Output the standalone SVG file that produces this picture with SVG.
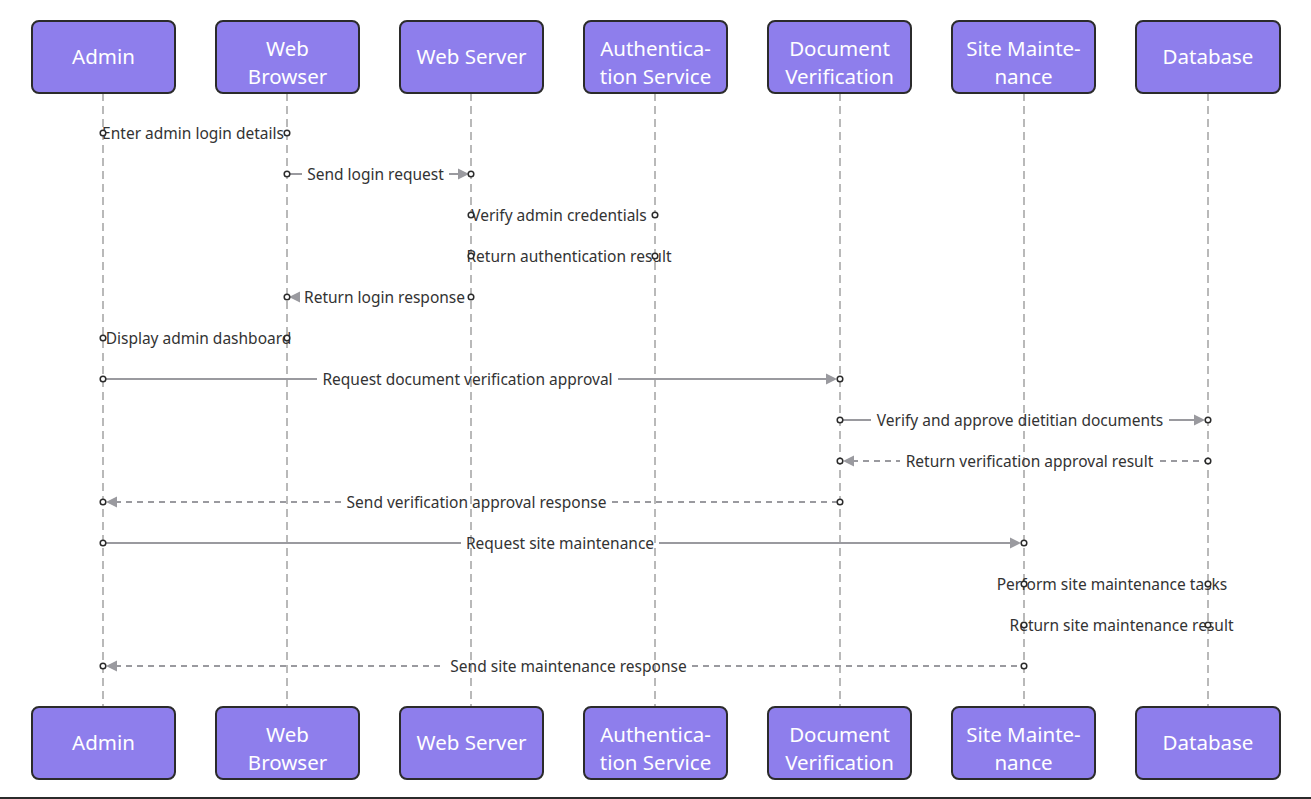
<svg xmlns="http://www.w3.org/2000/svg" xmlns:xlink="http://www.w3.org/1999/xlink" width="1311" height="799" viewBox="0 0 1311 799">
<style>
.box{fill:#8e7eec;stroke:#2b2b2b;stroke-width:2}
.bt{font-family:"Noto Sans","Open Sans",sans-serif;font-size:20.5px;fill:#ffffff;text-anchor:middle}
.life{stroke:#a8a8a8;stroke-width:1.6;stroke-dasharray:8 5;fill:none}
.msg{stroke:#9a9a9f;stroke-width:2;fill:none}
.dash{stroke-dasharray:6 5}
.mt{font-family:"Noto Sans","Open Sans",sans-serif;font-size:15.5px;fill:#333333;text-anchor:middle}
.dot{fill:#ffffff;stroke:#2b2b2b;stroke-width:1.5}
.ah{fill:#9a9a9f}
</style>
<defs>
<path id="ar" d="M0,0 L-11,-5.5 L-11,5.5 Z"/>
<path id="al" d="M0,0 L11,-5.5 L11,5.5 Z"/>
</defs>
<rect width="1311" height="799" fill="#ffffff"/>
<g id="lifelines">
<line class="life" x1="103" y1="93" x2="103" y2="707"/>
<line class="life" x1="287" y1="93" x2="287" y2="707"/>
<line class="life" x1="471" y1="93" x2="471" y2="707"/>
<line class="life" x1="655" y1="93" x2="655" y2="707"/>
<line class="life" x1="840" y1="93" x2="840" y2="707"/>
<line class="life" x1="1024" y1="93" x2="1024" y2="707"/>
<line class="life" x1="1208" y1="93" x2="1208" y2="707"/>
</g>
<g id="node-admin">
<rect class="box" x="32" y="21" width="143" height="72" rx="7"/>
<text class="bt" x="103.5" y="64">Admin</text>
</g>
<g id="node-browser">
<rect class="box" x="216" y="21" width="143" height="72" rx="7"/>
<text class="bt" x="287.5" y="56">Web</text>
<text class="bt" x="287.5" y="84">Browser</text>
</g>
<g id="node-server">
<rect class="box" x="400" y="21" width="143" height="72" rx="7"/>
<text class="bt" x="471.5" y="64">Web Server</text>
</g>
<g id="node-auth">
<rect class="box" x="584" y="21" width="143" height="72" rx="7"/>
<text class="bt" x="655.5" y="56">Authentica-</text>
<text class="bt" x="655.5" y="84">tion Service</text>
</g>
<g id="node-docver">
<rect class="box" x="768" y="21" width="143" height="72" rx="7"/>
<text class="bt" x="839.5" y="56">Document</text>
<text class="bt" x="839.5" y="84">Verification</text>
</g>
<g id="node-site">
<rect class="box" x="952" y="21" width="143" height="72" rx="7"/>
<text class="bt" x="1023.5" y="56">Site Mainte-</text>
<text class="bt" x="1023.5" y="84">nance</text>
</g>
<g id="node-db">
<rect class="box" x="1136" y="21" width="144" height="72" rx="7"/>
<text class="bt" x="1208" y="64">Database</text>
</g>
<g id="node-admin-bottom">
<rect class="box" x="32" y="707" width="143" height="72" rx="7"/>
<text class="bt" x="103.5" y="750">Admin</text>
</g>
<g id="node-browser-bottom">
<rect class="box" x="216" y="707" width="143" height="72" rx="7"/>
<text class="bt" x="287.5" y="742">Web</text>
<text class="bt" x="287.5" y="770">Browser</text>
</g>
<g id="node-server-bottom">
<rect class="box" x="400" y="707" width="143" height="72" rx="7"/>
<text class="bt" x="471.5" y="750">Web Server</text>
</g>
<g id="node-auth-bottom">
<rect class="box" x="584" y="707" width="143" height="72" rx="7"/>
<text class="bt" x="655.5" y="742">Authentica-</text>
<text class="bt" x="655.5" y="770">tion Service</text>
</g>
<g id="node-docver-bottom">
<rect class="box" x="768" y="707" width="143" height="72" rx="7"/>
<text class="bt" x="839.5" y="742">Document</text>
<text class="bt" x="839.5" y="770">Verification</text>
</g>
<g id="node-site-bottom">
<rect class="box" x="952" y="707" width="143" height="72" rx="7"/>
<text class="bt" x="1023.5" y="742">Site Mainte-</text>
<text class="bt" x="1023.5" y="770">nance</text>
</g>
<g id="node-db-bottom">
<rect class="box" x="1136" y="707" width="144" height="72" rx="7"/>
<text class="bt" x="1208" y="750">Database</text>
</g>
<g id="connectors">
<!-- 1 -->
<text class="mt" x="193" y="139">Enter admin login details</text>
<!-- 2 -->
<line class="msg" x1="287" y1="174" x2="302" y2="174"/>
<line class="msg" x1="449" y1="174" x2="460" y2="174"/>
<use href="#ar" class="ah" x="469" y="174"/>
<text class="mt" x="375.5" y="180">Send login request</text>
<!-- 3 -->
<text class="mt" x="559" y="221">Verify admin credentials</text>
<!-- 4 -->
<text class="mt" x="569" y="262">Return authentication result</text>
<!-- 5 -->
<use href="#al" class="ah" x="289" y="297"/>
<text class="mt" x="384.5" y="303">Return login response</text>
<!-- 6 -->
<text class="mt" x="198.5" y="344">Display admin dashboard</text>
<!-- 7 -->
<line class="msg" x1="103" y1="379" x2="317" y2="379"/>
<line class="msg" x1="618" y1="379" x2="828" y2="379"/>
<use href="#ar" class="ah" x="837" y="379"/>
<text class="mt" x="467.5" y="385">Request document verification approval</text>
<!-- 8 -->
<line class="msg" x1="840" y1="420" x2="871" y2="420"/>
<line class="msg" x1="1169" y1="420" x2="1196" y2="420"/>
<use href="#ar" class="ah" x="1205" y="420"/>
<text class="mt" x="1020" y="426">Verify and approve dietitian documents</text>
<!-- 9 -->
<use href="#al" class="ah" x="843" y="461"/>
<line class="msg dash" x1="852" y1="461" x2="900" y2="461"/>
<line class="msg dash" x1="1160" y1="461" x2="1208" y2="461"/>
<text class="mt" x="1029.5" y="467">Return verification approval result</text>
<!-- 10 -->
<use href="#al" class="ah" x="106" y="502"/>
<line class="msg dash" x1="115" y1="502" x2="341" y2="502"/>
<line class="msg dash" x1="612" y1="502" x2="840" y2="502"/>
<text class="mt" x="476.5" y="508">Send verification approval response</text>
<!-- 11 -->
<line class="msg" x1="103" y1="543" x2="461" y2="543"/>
<line class="msg" x1="659" y1="543" x2="1012" y2="543"/>
<use href="#ar" class="ah" x="1021" y="543"/>
<text class="mt" x="560" y="549">Request site maintenance</text>
<!-- 12 -->
<text class="mt" x="1112" y="590">Perform site maintenance tasks</text>
<!-- 13 -->
<text class="mt" x="1121.5" y="631">Return site maintenance result</text>
<!-- 14 -->
<use href="#al" class="ah" x="106" y="666"/>
<line class="msg dash" x1="115" y1="666" x2="445" y2="666"/>
<line class="msg dash" x1="692" y1="666" x2="1024" y2="666"/>
<text class="mt" x="568.5" y="672">Send site maintenance response</text>
<!-- endpoint dots -->
<circle class="dot" cx="103" cy="133" r="2.8"/><circle class="dot" cx="287" cy="133" r="2.8"/>
<circle class="dot" cx="287" cy="174" r="2.8"/><circle class="dot" cx="471" cy="174" r="2.8"/>
<circle class="dot" cx="471" cy="215" r="2.8"/><circle class="dot" cx="655" cy="215" r="2.8"/>
<circle class="dot" cx="655" cy="256" r="2.8"/><circle class="dot" cx="471" cy="256" r="2.8"/>
<circle class="dot" cx="471" cy="297" r="2.8"/><circle class="dot" cx="287" cy="297" r="2.8"/>
<circle class="dot" cx="287" cy="338" r="2.8"/><circle class="dot" cx="103" cy="338" r="2.8"/>
<circle class="dot" cx="103" cy="379" r="2.8"/><circle class="dot" cx="840" cy="379" r="2.8"/>
<circle class="dot" cx="840" cy="420" r="2.8"/><circle class="dot" cx="1208" cy="420" r="2.8"/>
<circle class="dot" cx="1208" cy="461" r="2.8"/><circle class="dot" cx="840" cy="461" r="2.8"/>
<circle class="dot" cx="840" cy="502" r="2.8"/><circle class="dot" cx="103" cy="502" r="2.8"/>
<circle class="dot" cx="103" cy="543" r="2.8"/><circle class="dot" cx="1024" cy="543" r="2.8"/>
<circle class="dot" cx="1024" cy="584" r="2.8"/><circle class="dot" cx="1208" cy="584" r="2.8"/>
<circle class="dot" cx="1208" cy="625" r="2.8"/><circle class="dot" cx="1024" cy="625" r="2.8"/>
<circle class="dot" cx="1024" cy="666" r="2.8"/><circle class="dot" cx="103" cy="666" r="2.8"/>
</g>
<rect x="0" y="797" width="1311" height="2" fill="#2b2b2b"/>
</svg>
